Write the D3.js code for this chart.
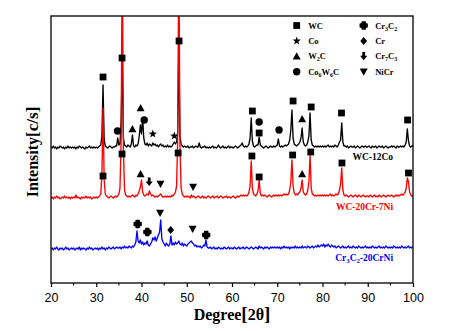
<!DOCTYPE html>
<html>
<head>
<meta charset="utf-8">
<script src="https://cdn.jsdelivr.net/npm/d3@7"></script>
<style>
  body { margin: 0; background: #fff; }
</style>
</head>
<body>
<script>
// scan grid: 20..100 deg, 0.25 deg step
var angleStart = 20;
var angleStep = 0.25;

var wc12co = [
  3,2,4,2,3,1,3,2,4,3,2,3,1,3,2,4,2,3,2,3,
  2,3,1,3,2,4,3,2,3,2,1,3,2,3,4,2,3,2,3,2,
  3,2,3,4,5,14,65,10,4,3,2,3,4,3,2,3,3,4,4,12,
  5,6,30,88,12,5,4,3,5,4,3,6,15,4,3,5,4,6,14,25,
  16,32,12,6,5,7,4,6,5,4,7,5,6,4,5,3,5,6,4,5,
  3,4,3,5,3,4,3,4,6,8,6,8,18,105,14,6,4,3,4,3,
  3,4,2,3,3,4,2,3,4,3,3,7,3,2,3,3,4,2,3,2,
  3,2,3,4,2,3,2,3,5,3,2,3,4,2,3,2,3,4,2,3,
  3,2,3,4,3,2,3,4,5,7,4,3,4,3,4,6,12,32,9,4,
  3,4,5,5,13,5,4,3,2,3,4,3,2,3,4,3,3,4,3,4,
  5,11,4,3,4,3,4,5,4,5,6,10,20,40,12,6,5,4,5,6,
  8,12,22,8,5,4,5,8,14,37,10,5,4,3,4,3,4,3,4,3,
  4,3,4,3,4,5,3,4,3,4,3,5,4,3,5,8,10,27,8,4,
  4,3,4,2,3,4,3,3,4,2,3,4,3,2,3,4,3,3,4,3,
  3,4,3,2,4,3,3,4,2,3,4,3,3,4,2,3,4,3,2,3,
  3,4,3,4,3,2,4,3,3,4,3,4,3,5,8,21,9,4,3,4,
  4
];

var wc20cr7ni = [
  2,3,1,3,2,4,2,3,1,2,3,2,4,2,3,2,3,1,3,2,
  3,2,5,2,3,2,1,3,2,3,2,4,2,3,2,3,1,2,3,2,
  3,2,3,4,6,25,92,20,6,4,3,2,3,4,3,2,3,4,3,4,
  6,12,60,260,50,10,5,4,3,4,3,4,5,4,3,5,4,6,9,13,
  20,8,5,4,5,6,5,9,6,4,5,4,3,4,3,4,5,6,4,3,
  3,4,3,4,3,4,3,5,4,6,8,14,60,260,55,12,6,4,3,4,
  3,4,3,2,5,3,4,3,2,3,4,3,2,3,4,2,3,2,3,4,
  3,2,3,4,2,3,3,4,2,3,4,3,2,3,3,4,2,3,3,2,
  3,4,3,2,3,4,3,4,5,4,5,4,5,4,5,8,14,39,12,6,
  5,4,6,9,20,7,4,5,4,5,4,3,4,5,4,3,4,5,4,5,
  4,5,4,5,4,5,6,5,6,5,6,10,18,40,14,7,5,6,5,7,
  8,12,20,8,6,5,6,10,18,45,12,6,5,4,5,4,5,4,5,4,
  5,4,5,4,5,4,5,6,4,5,4,5,6,5,6,10,16,32,10,5,
  4,5,4,3,4,5,4,3,4,5,4,3,5,4,3,4,5,4,3,4,
  4,3,5,4,3,4,5,3,4,3,5,4,3,4,5,4,3,4,5,4,
  4,5,4,3,4,5,4,5,4,5,6,5,6,8,12,22,18,8,5,4,
  4
];

var cr3c2CrNi = [
  2,3,1,3,2,4,2,1,3,2,3,1,2,4,2,3,1,2,3,2,
  3,1,2,3,2,4,1,3,2,3,2,1,3,2,4,2,3,1,2,3,
  2,3,1,3,2,4,2,3,1,3,2,4,3,2,3,4,2,3,4,3,
  3,4,2,4,3,5,3,4,3,5,4,3,5,4,6,9,20,10,8,11,
  7,9,6,8,7,10,6,5,7,9,13,11,14,10,13,16,19,31,12,9,
  7,5,8,6,5,7,15,6,8,6,9,7,8,10,7,6,8,5,7,6,
  5,7,8,9,10,8,7,5,6,4,5,4,5,3,4,6,5,11,4,3,
  3,4,2,3,4,2,3,2,4,3,2,3,2,4,3,2,3,4,2,3,
  3,2,4,3,2,3,4,2,3,3,4,2,3,4,3,2,3,4,3,2,
  3,4,3,2,5,3,4,3,2,4,3,4,3,2,4,3,4,3,4,3,
  4,3,4,2,4,3,5,3,4,3,4,2,4,3,4,3,5,3,4,3,
  4,3,5,3,4,4,3,5,4,3,4,5,3,4,5,4,6,4,5,6,
  5,7,4,6,5,7,5,4,6,5,4,5,3,4,5,4,3,4,5,3,
  4,3,4,5,3,4,3,5,4,3,4,3,5,4,3,4,3,4,5,3,
  4,3,4,3,5,4,3,4,3,4,5,3,4,3,4,3,5,4,3,4,
  3,4,3,5,4,3,4,3,4,3,5,4,3,4,3,4,5,3,4,3,
  4
];

var seriesNames = ['WC-12Co', 'WC-20Cr-7Ni', 'Cr_3C_2-20CrNi'];
var seriesOffsets = [133, 83, 32];
var seriesColors = ['#000000', '#ff0000', '#0000ff'];

var xTicks = [20, 30, 40, 50, 60, 70, 80, 90, 100];
var xMinorTicks = [25, 35, 45, 55, 65, 75, 85, 95];

var phases = ['WC', 'Co', 'W_2C', 'Co_6W_6C', 'Cr_3C_2', 'Cr', 'Cr_7C_3', 'NiCr'];

// [phase, 2theta, level above the pattern baseline]
var wc12coPeaks = [
  ['WC', 31.5, 73], ['WC', 35.7, 92], ['WC', 48.3, 109],
  ['Co_6W_6C', 34.7, 19], ['W_2C', 38.0, 21], ['W_2C', 39.8, 42],
  ['Co_6W_6C', 40.6, 30], ['Co', 42.5, 16], ['Co', 47.25, 14],
  ['WC', 64.5, 39], ['Co_6W_6C', 66.0, 28], ['WC', 66.0, 17],
  ['Co_6W_6C', 70.4, 20], ['WC', 73.5, 49], ['W_2C', 75.5, 31],
  ['WC', 77.5, 43], ['WC', 84.2, 37], ['WC', 98.8, 30]
];
var wc20cr7niPeaks = [
  ['WC', 31.5, 24], ['WC', 35.7, 46], ['WC', 48.1, 47],
  ['W_2C', 39.8, 26], ['Cr_7C_3', 41.7, 18], ['NiCr', 44.2, 16],
  ['NiCr', 51.4, 13], ['WC', 64.4, 44], ['WC', 66.0, 23],
  ['WC', 73.4, 45], ['W_2C', 75.5, 26], ['WC', 77.4, 48],
  ['WC', 84.3, 37], ['WC', 99.0, 27]
];
var cr3c2CrNiPeaks = [
  ['Cr_3C_2', 39.15, 27], ['Cr_3C_2', 41.3, 19], ['NiCr', 44.1, 38],
  ['Cr', 46.45, 21], ['NiCr', 51.3, 22], ['Cr_3C_2', 54.3, 16]
];

var patterns = [wc12co, wc20cr7ni, cr3c2CrNi];
var peakSets = [wc12coPeaks, wc20cr7niPeaks, cr3c2CrNiPeaks];

var serif = '"Liberation Serif", "Times New Roman", serif';
var sans = '"Liberation Sans", Arial, sans-serif';

var svg = d3.select('body')
  .append('svg')
  .attr('width', 450)
  .attr('height', 331);

var x = d3.scaleLinear().domain([20, 100]).range([51, 413]);
var y = d3.scaleLinear().domain([0, 267]).range([283, 16]);

svg.append('clipPath')
  .attr('id', 'plot-clip')
  .append('rect')
  .attr('x', 51).attr('y', 16)
  .attr('width', 362).attr('height', 267);

// marker shapes, centred on 0,0
function starPath(ro, ri) {
  var p = [];
  for (var k = 0; k < 10; k++) {
    var r = k % 2 ? ri : ro;
    var a = -Math.PI / 2 + k * Math.PI / 5;
    p.push([r * Math.cos(a), r * Math.sin(a)]);
  }
  return 'M' + p.join('L') + 'Z';
}

var shapes = {
  'WC': 'M-3.4,-3.4H3.4V3.4H-3.4Z',
  'Co': starPath(4.4, 1.8),
  'W_2C': 'M0,-4L4,3.2L-4,3.2Z',
  'Co_6W_6C': 'M3.7,0A3.7,3.7 0 1,1 -3.7,0A3.7,3.7 0 1,1 3.7,0Z',
  'Cr_3C_2': 'M-1.5,-3.4H1.5V-1.5H3.4V1.5H1.5V3.4H-1.5V1.5H-3.4V-1.5H-1.5Z',
  'Cr': 'M0,-4L3.4,0L0,4L-3.4,0Z',
  'Cr_7C_3': 'M-1.4,-4.4H1.4V-0.6H3.6L0,4L-3.6,-0.6H-1.4Z',
  'NiCr': 'M-4,-3.2H4L0,4Z'
};

function drawMarker(g, phase) {
  var m = g.append('path')
    .attr('d', shapes[phase])
    .attr('fill', '#000');
  if (phase === 'Cr_3C_2') {
    m.attr('stroke', '#000').attr('stroke-width', 1.5).attr('stroke-linejoin', 'round');
  }
  return m;
}

// "Cr_3C_2" -> Cr<sub>3</sub>C<sub>2</sub>
function formula(el, str) {
  var shifted = false;
  str.match(/_\d|[^_]+/g).forEach(function(tok) {
    var isSub = tok[0] === '_';
    var t = el.append('tspan').text(isSub ? tok.slice(1) : tok);
    if (isSub) t.attr('font-size', '70%');
    if (isSub !== shifted) {
      t.attr('dy', isSub ? 2 : -2);
      shifted = isSub;
    }
  });
}

var plot = svg.append('g').attr('clip-path', 'url(#plot-clip)');

patterns.forEach(function(data, s) {
  var line = d3.line()
    .x(function(d, i) { return x(angleStart + i * angleStep); })
    .y(function(d) { return y(d + seriesOffsets[s]); });

  plot.append('path')
    .datum(data)
    .attr('d', line)
    .attr('fill', 'none')
    .attr('stroke', seriesColors[s])
    .attr('stroke-width', 1.35)
    .attr('stroke-linejoin', 'round');
});

peakSets.forEach(function(peaks, s) {
  peaks.forEach(function(p) {
    var g = svg.append('g')
      .attr('transform', 'translate(' + x(p[1]) + ',' + y(p[2] + seriesOffsets[s]) + ')');
    drawMarker(g, p[0]);
  });
});

seriesNames.forEach(function(name, s) {
  var t = svg.append('text')
    .attr('x', x(95.6))
    .attr('y', y(seriesOffsets[s]) + 10)
    .attr('text-anchor', 'end')
    .attr('font-family', serif)
    .attr('font-weight', 'bold')
    .attr('font-size', 9.5)
    .attr('fill', seriesColors[s]);
  formula(t, name);
});

// legend, two columns of four
phases.forEach(function(phase, i) {
  var col = Math.floor(i / 4), row = i % 4;
  var g = svg.append('g')
    .attr('transform', 'translate(' + (296.7 + col * 67) + ',' + (25.5 + row * 15.4) + ')');
  drawMarker(g, phase);
  var t = g.append('text')
    .attr('x', 11.5)
    .attr('y', 3)
    .attr('font-family', serif)
    .attr('font-weight', 'bold')
    .attr('font-size', 8.5);
  formula(t, phase);
});

// frame
svg.append('rect')
  .attr('x', 51).attr('y', 16)
  .attr('width', 362).attr('height', 267)
  .attr('fill', 'none')
  .attr('stroke', '#000')
  .attr('stroke-width', 1.3);

var xAxis = svg.append('g')
  .attr('transform', 'translate(0,283)')
  .call(d3.axisBottom(x).tickValues(xTicks).tickSize(4).tickPadding(6).tickSizeOuter(0));
xAxis.select('.domain').remove();
xAxis.selectAll('line').attr('stroke', '#000').attr('stroke-width', 1.2);
xAxis.selectAll('text')
  .attr('font-family', sans)
  .attr('font-size', 12.5)
  .attr('fill', '#000');

svg.append('g')
  .selectAll('line')
  .data(xMinorTicks)
  .enter()
  .append('line')
  .attr('x1', function(d) { return x(d); })
  .attr('x2', function(d) { return x(d); })
  .attr('y1', 283)
  .attr('y2', 285.5)
  .attr('stroke', '#000')
  .attr('stroke-width', 1.1);

// axis titles
var xTitle = svg.append('text')
  .attr('x', 232)
  .attr('y', 320)
  .attr('text-anchor', 'middle')
  .attr('font-family', serif)
  .attr('font-weight', 'bold')
  .attr('font-size', 16);
xTitle.append('tspan').text('Degree');
xTitle.append('tspan').attr('font-size', 19).text('[');
xTitle.append('tspan').text('2θ');
xTitle.append('tspan').attr('font-size', 19).text(']');

var yTitle = svg.append('text')
  .attr('transform', 'translate(38,152) rotate(-90)')
  .attr('text-anchor', 'middle')
  .attr('font-family', serif)
  .attr('font-weight', 'bold')
  .attr('font-size', 16);
yTitle.append('tspan').text('Intensity');
yTitle.append('tspan').attr('font-size', 17).text('[c/s]');
</script>
</body>
</html>
